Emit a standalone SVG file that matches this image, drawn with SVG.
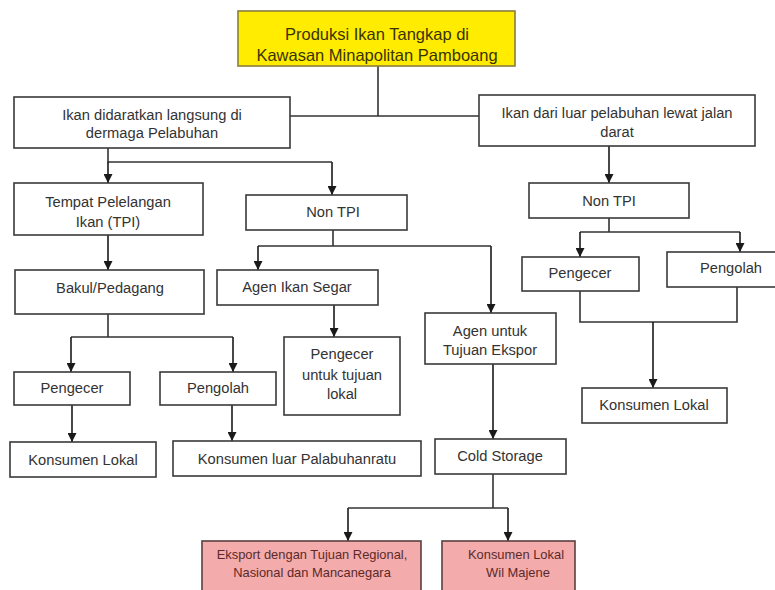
<svg xmlns="http://www.w3.org/2000/svg" width="775" height="590" viewBox="0 0 775 590">
<defs>
<marker id="arr" viewBox="0 0 10 10" refX="10" refY="5" markerWidth="9" markerHeight="9" markerUnits="userSpaceOnUse" orient="auto">
<path d="M0,0 L10,5 L0,10 z" fill="#1a1a1a"/>
</marker>
<style>
.box{fill:#ffffff;stroke:#3a3a3a;stroke-width:1.6}
.yel{fill:#ffec00;stroke:#8a7d3a;stroke-width:1.6}
.pink{fill:#f4abab;stroke:#5a4040;stroke-width:1.6}
text{font-family:"Liberation Sans",Arial,sans-serif;font-size:14.7px;fill:#333333;text-anchor:middle}
.t14{font-size:16.5px;fill:#3a3300}
.tp{font-size:12.9px;fill:#5a2a2a}
.ln{fill:none;stroke:#333333;stroke-width:1.6}
.ar{fill:none;stroke:#1a1a1a;stroke-width:1.6;marker-end:url(#arr)}
</style>
</defs>
<rect width="775" height="590" fill="#ffffff"/>
<g id="connectors">
<path class="ln" d="M378,66 V116 M290,116 H479"/>
<path class="ln" d="M108,148 V162 H332"/>
<path class="ar" d="M108,162 V183"/>
<path class="ar" d="M332,162 V195"/>
<path class="ar" d="M108,235 V270"/>
<path class="ln" d="M333,230 V246 M258,246 H491"/>
<path class="ar" d="M258,246 V270"/>
<path class="ar" d="M491,246 V313"/>
<path class="ar" d="M334,305 V337"/>
<path class="ln" d="M108,314 V337 M71,337 H233"/>
<path class="ar" d="M71,337 V372"/>
<path class="ar" d="M233,337 V372"/>
<path class="ar" d="M72,405 V442"/>
<path class="ar" d="M232,405 V441"/>
<path class="ar" d="M493,364 V439"/>
<path class="ln" d="M493,474 V508 M348,508 H508"/>
<path class="ar" d="M348,508 V541"/>
<path class="ar" d="M508,508 V541"/>
<path class="ar" d="M609,146 V183"/>
<path class="ln" d="M609,218 V232 M580,232 H740"/>
<path class="ar" d="M580,232 V257"/>
<path class="ar" d="M740,232 V252"/>
<path class="ln" d="M580,291 V322 H737 V287"/>
<path class="ar" d="M653,322 V388"/>
</g>
<g id="n-produksi">
<rect class="yel" x="238" y="11" width="277" height="55"/>
<text class="t14" x="377" y="40">Produksi Ikan Tangkap di</text>
<text class="t14" x="377" y="61">Kawasan Minapolitan Pamboang</text>
</g>
<g id="n-didaratkan">
<rect class="box" x="14" y="97" width="276" height="51"/>
<text x="152" y="120">Ikan didaratkan langsung di</text>
<text x="152" y="138">dermaga Pelabuhan</text>
</g>
<g id="n-luar">
<rect class="box" x="479" y="95" width="276" height="51"/>
<text x="617" y="118">Ikan dari luar pelabuhan lewat jalan</text>
<text x="617" y="137">darat</text>
</g>
<g id="n-tpi">
<rect class="box" x="14" y="183" width="189" height="52"/>
<text x="108" y="207">Tempat Pelelangan</text>
<text x="108" y="227">Ikan (TPI)</text>
</g>
<g id="n-nontpi1">
<rect class="box" x="246" y="195" width="161" height="35"/>
<text x="333" y="217">Non TPI</text>
</g>
<g id="n-nontpi2">
<rect class="box" x="529" y="183" width="160" height="35"/>
<text x="609" y="206">Non TPI</text>
</g>
<g id="n-bakul">
<rect class="box" x="15" y="270" width="189" height="44"/>
<text x="110" y="293">Bakul/Pedagang</text>
</g>
<g id="n-agensegar">
<rect class="box" x="217" y="270" width="161" height="35"/>
<text x="297" y="292">Agen Ikan Segar</text>
</g>
<g id="n-pengecer2">
<rect class="box" x="522" y="257" width="117" height="34"/>
<text x="580" y="278">Pengecer</text>
</g>
<g id="n-pengolah2">
<rect class="box" x="667" y="252" width="109" height="35"/>
<text x="731" y="273">Pengolah</text>
</g>
<g id="n-pengeceruntuk">
<rect class="box" x="284" y="337" width="116" height="78"/>
<text x="342" y="359">Pengecer</text>
<text x="342" y="380">untuk tujuan</text>
<text x="342" y="399">lokal</text>
</g>
<g id="n-agenekspor">
<rect class="box" x="425" y="313" width="131" height="51"/>
<text x="490" y="336">Agen untuk</text>
<text x="490" y="355">Tujuan Ekspor</text>
</g>
<g id="n-pengecer1">
<rect class="box" x="14" y="372" width="116" height="33"/>
<text x="72" y="393">Pengecer</text>
</g>
<g id="n-pengolah1">
<rect class="box" x="160" y="372" width="116" height="33"/>
<text x="218" y="393">Pengolah</text>
</g>
<g id="n-konsumenlokal2">
<rect class="box" x="582" y="388" width="145" height="35"/>
<text x="654" y="410">Konsumen Lokal</text>
</g>
<g id="n-konsumenlokal1">
<rect class="box" x="10" y="442" width="146" height="35"/>
<text x="83" y="465">Konsumen Lokal</text>
</g>
<g id="n-konsumenluar">
<rect class="box" x="173" y="441" width="248" height="35"/>
<text x="297" y="464">Konsumen luar Palabuhanratu</text>
</g>
<g id="n-cold">
<rect class="box" x="435" y="439" width="131" height="35"/>
<text x="500" y="461">Cold Storage</text>
</g>
<g id="n-eksport">
<rect class="pink" x="202" y="541" width="219" height="52"/>
<text class="tp" x="312" y="559">Eksport dengan Tujuan Regional,</text>
<text class="tp" x="312" y="577">Nasional dan Mancanegara</text>
</g>
<g id="n-majene">
<rect class="pink" x="442" y="541" width="133" height="52"/>
<text class="tp" x="516" y="559">Konsumen Lokal</text>
<text class="tp" x="518" y="577">Wil Majene</text>
</g>
</svg>
